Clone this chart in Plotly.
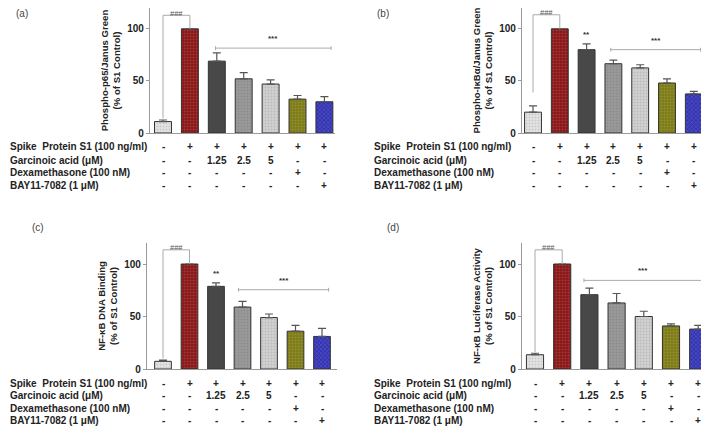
import plotly.graph_objects as go

W, H = 709, 426

# ---------------- data ----------------
row_labels = ["Spike\u00a0 Protein S1 (100 ng/ml)", "Garcinoic acid (\u03bcM)",
              "Dexamethasone (100 nM)", "BAY11-7082 (1 \u03bcM)"]
spike = ["-", "+", "+", "+", "+", "+", "+"]
garcinoic = ["-", "-", "1.25", "2.5", "5", "-", "-"]
dexa = ["-", "-", "-", "-", "-", "+", "-"]
bay = ["-", "-", "-", "-", "-", "-", "+"]
condition_rows = [spike, garcinoic, dexa, bay]

groups = list(range(7))

p65_mean = [11, 100, 69, 52, 47, 32.5, 30]
p65_err = [1.5, 0, 8, 6, 4, 3.5, 5]
ikba_mean = [20, 100, 80, 66.5, 62.5, 48, 37.5]
ikba_err = [6, 0, 5.5, 3.5, 3, 4, 2.5]
dna_mean = [7.3, 100, 78.7, 59, 49, 36, 31]
dna_err = [1.2, 0, 3.3, 5.4, 3.4, 5.6, 7.7]
luc_mean = [13.6, 100, 70.8, 62.9, 50, 41, 38]
luc_err = [1.4, 0, 6.2, 9, 5, 2, 3.6]

y_titles = ["Phospho-p65/Janus Green<br>(% of S1 Control)",
            "Phospho-I\u03baB\u03b1/Janus Green<br>(% of S1 Control)",
            "NF-\u03baB DNA Binding<br>(% of S1 Control)",
            "NF-\u03baB Luciferase Activity<br>(% of S1 Control)"]
panel_letters = ["(a)", "(b)", "(c)", "(d)"]

# significance: hash bracket (left start value, top value); star bracket (from, to, y); double-star groups
hash_start = [14, 39, 10, 16]
hash_top = [113, 113.5, 113.5, 113.5]
star_from = [1.95, 2.9, 2.85, 1.8]
star_to = [6.25, 6.25, 6.25, 6.15]
star_y = [81.5, 80, 75.5, 84.4]
dstar_group = [None, 2, 2, None]

yticks = [0, 50, 100]

# ---------------- style ----------------
bar_colors = ["#e4e4e4", "#8a1414", "#484848", "#9a9a9a", "#d2d2d2", "#7c7a12", "#3434b4"]
pattern_shape = [".", ".", "", ".", ".", ".", "x"]
FONT = "Liberation Sans, Arial, sans-serif"
AX = "#9a9a9a"
OFF = 8  # the page body margin shifts the figure by this many pixels

# panel geometry in screen pixels
panels = [
    dict(xl=150, xr=335, yt=8, yb=133, c0=163, sp=26.9, lab=(22, 14), rowx=8, rows=[147, 160, 173, 185]),
    dict(xl=522, xr=708, yt=8, yb=133, c0=533, sp=26.8, lab=(383, 14), rowx=372, rows=[147, 160, 173, 185]),
    dict(xl=147, xr=337, yt=243, yb=369, c0=163, sp=26.5, lab=(38, 227), rowx=8, rows=[383, 395, 408, 420]),
    dict(xl=522, xr=709, yt=243, yb=369, c0=535, sp=27.2, lab=(393, 227), rowx=372, rows=[383, 395, 408, 420]),
]
means = [p65_mean, ikba_mean, dna_mean, luc_mean]
errs = [p65_err, ikba_err, dna_err, luc_err]

fig = go.Figure()
annotations = []


def px(x):
    return (x - OFF) / W


def py(y):
    return 1 - (y - OFF) / H


for k, P in enumerate(panels):
    sfx = "" if k == 0 else str(k + 1)
    xa, ya = "x" + sfx, "y" + sfx
    fig.add_trace(go.Bar(
        x=groups, y=means[k], xaxis=xa, yaxis=ya, width=0.63,
        marker=dict(color=bar_colors, line=dict(color="#333333", width=1),
                    pattern=dict(shape=pattern_shape, fillmode="overlay", fgcolor="#000000",
                                 fgopacity=0.16, size=3, solidity=0.4)),
        error_y=dict(type="data", array=errs[k], arrayminus=[0] * 7, symmetric=False,
                     color="#555555", thickness=1.2, width=4),
        showlegend=False, hoverinfo="skip"))
    # ### bracket
    fig.add_trace(go.Scatter(
        x=[groups[0], groups[0], groups[1], groups[1]],
        y=[hash_start[k], hash_top[k], hash_top[k], means[k][1]],
        xaxis=xa, yaxis=ya, mode="lines", line=dict(color="#aaaaaa", width=1),
        showlegend=False, hoverinfo="skip"))
    annotations.append(dict(x=(groups[0] + groups[1]) / 2, y=hash_top[k] + 2, xref=xa, yref=ya,
                            text="###", showarrow=False, xanchor="center", yanchor="middle",
                            font=dict(size=7.5, color="#555555", family=FONT)))
    # *** bracket
    fig.add_trace(go.Scatter(
        x=[star_from[k], star_from[k], None, star_from[k], star_to[k], None, star_to[k], star_to[k]],
        y=[star_y[k] - 1.8, star_y[k] + 1.8, None, star_y[k], star_y[k], None,
           star_y[k] - 1.8, star_y[k] + 1.8],
        xaxis=xa, yaxis=ya, mode="lines", line=dict(color="#aaaaaa", width=1),
        showlegend=False, hoverinfo="skip"))
    annotations.append(dict(x=(star_from[k] + star_to[k]) / 2, y=star_y[k] + 3, xref=xa, yref=ya,
                            text="***", showarrow=False, xanchor="center", yanchor="bottom",
                            font=dict(size=8, color="#333333", family=FONT, weight="bold")))
    if dstar_group[k] is not None:
        g = dstar_group[k]
        annotations.append(dict(x=groups[g], y=means[k][g] + errs[k][g] + 3, xref=xa, yref=ya,
                                text="**", showarrow=False, xanchor="center", yanchor="bottom",
                                font=dict(size=8, color="#333333", family=FONT, weight="bold")))

    xr0 = (P["xl"] - P["c0"]) / P["sp"]
    xr1 = (P["xr"] - P["c0"]) / P["sp"]
    fig.layout["xaxis" + sfx] = dict(domain=[px(P["xl"]), min(1, px(P["xr"]))], range=[xr0, xr1],
                                     anchor=ya, showline=True, linecolor=AX, linewidth=1.2,
                                     showticklabels=False, ticks="", showgrid=False, zeroline=False,
                                     fixedrange=True, automargin=False)
    fig.layout["yaxis" + sfx] = dict(domain=[py(P["yb"]), min(1, py(P["yt"]))], range=[0, 120],
                                     anchor=xa, showline=True, linecolor=AX, linewidth=1.2,
                                     tickvals=yticks, ticks="outside", ticklen=3, tickcolor=AX,
                                     tickfont=dict(size=10, family=FONT, color="#222222", weight="bold"),
                                     showgrid=False, zeroline=False, fixedrange=True, automargin=False,
                                     title=dict(text=y_titles[k], standoff=4,
                                                font=dict(size=9.6, family=FONT, color="#222222",
                                                          weight="bold")))
    # panel letter
    annotations.append(dict(x=px(P["lab"][0]), y=py(P["lab"][1]), xref="paper", yref="paper",
                            text=panel_letters[k], showarrow=False, xanchor="center", yanchor="middle",
                            font=dict(size=10, family=FONT, color="#444444")))
    # condition table
    for r, (lab, vals) in enumerate(zip(row_labels, condition_rows)):
        yy = py(P["rows"][r])
        annotations.append(dict(x=px(P["rowx"]), y=yy, xref="paper", yref="paper", text=lab,
                                xanchor="left", yanchor="middle", showarrow=False,
                                font=dict(size=10, family=FONT, color="#222222", weight="bold")))
        for g, v in zip(groups, vals):
            annotations.append(dict(x=g, y=yy, xref=xa, yref="paper", text=v, showarrow=False,
                                    xanchor="center", yanchor="middle",
                                    font=dict(size=10, family=FONT, color="#222222", weight="bold")))

fig.update_layout(template="none", width=W, height=H, margin=dict(l=0, r=0, t=0, b=0, pad=0),
                  paper_bgcolor="white", plot_bgcolor="white",
                  annotations=annotations, bargap=0.3)
fig.write_html("out.html")
